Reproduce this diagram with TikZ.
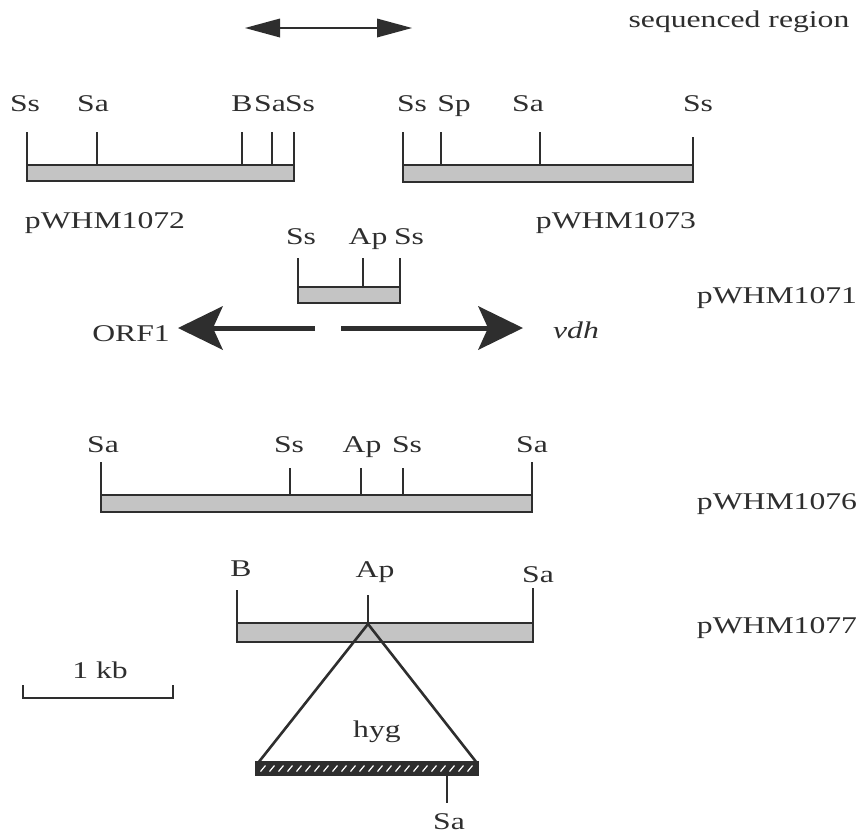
\documentclass[tikz,border=0pt]{standalone}
\usepackage{fontspec}
\setmainfont{Liberation Serif}
\usepackage{graphicx}
\definecolor{ink}{HTML}{2E2E2E}
\definecolor{stip}{HTML}{C4C4C4}
\newcommand\hs[1]{\scalebox{1.32}[1]{#1}}
\begin{document}
\begin{tikzpicture}[x=1pt,y=-1pt,
  lbl/.style={anchor=base,inner sep=0pt,font=\fontsize{24}{28}\selectfont,text=ink},
  dnabar/.style={draw=ink,line width=2.2pt,fill=stip},
  site/.style={draw=ink,line width=2pt},
  shaft/.style={draw=ink,line width=5pt},
  thinshaft/.style={draw=ink,line width=1.6pt},
  head/.style={fill=ink,draw=none},
  tri/.style={draw=ink,line width=2.6pt,line join=miter},
  hygbar/.style={draw=ink,line width=2pt,fill=ink}]
\useasboundingbox (0,0) rectangle (865,836);

% sequenced region arrow
\coordinate (sqL) at (245,28);
\coordinate (sqR) at (412,28);
\draw[thinshaft] (278,28) -- (380,28);
\fill[head] (sqL) -- (280,18.5) -- (280,37.5) -- cycle;
\fill[head] (sqR) -- (377,18.5) -- (377,37.5) -- cycle;
\node[lbl] (seq) at (739,27) {\hs{sequenced region}};

% pWHM1072
\foreach \x in {27,97,242,272,294} \draw[site] (\x,132) -- (\x,165);
\draw[dnabar] (27,165) rectangle (294,181);
\node[lbl] (a1) at (25,111) {\hs{Ss}};
\node[lbl] (a2) at (93,111) {\hs{Sa}};
\node[lbl] (a3) at (242,111) {\hs{B}};
\node[lbl] (a4) at (270,111) {\hs{Sa}};
\node[lbl] (a5) at (300,111) {\hs{Ss}};
\node[lbl] (p1072) at (105,228) {\hs{pWHM1072}};

% pWHM1073
\foreach \x/\t in {403/132,441/132,540/132,693/137} \draw[site] (\x,\t) -- (\x,165);
\draw[dnabar] (403,165) rectangle (693,182);
\node[lbl] (b1) at (412,111) {\hs{Ss}};
\node[lbl] (b2) at (454,111) {\hs{Sp}};
\node[lbl] (b3) at (528,111) {\hs{Sa}};
\node[lbl] (b4) at (698,111) {\hs{Ss}};
\node[lbl] (p1073) at (616,228) {\hs{pWHM1073}};

% pWHM1071
\foreach \x in {298,363,400} \draw[site] (\x,258) -- (\x,287);
\draw[dnabar] (298,287) rectangle (400,303);
\node[lbl] (c1) at (301,244) {\hs{Ss}};
\node[lbl] (c2) at (368,244) {\hs{Ap}};
\node[lbl] (c3) at (409,244) {\hs{Ss}};
\node[lbl] (p1071) at (777,303) {\hs{pWHM1071}};

% ORF1 / vdh arrows
\coordinate (orfT) at (178,328);
\coordinate (vdhT) at (523,328);
\draw[shaft] (315,328) -- (212,328);
\fill[head] (orfT) -- (223,306) -- (213,328) -- (223,350) -- cycle;
\draw[shaft] (341,328) -- (489,328);
\fill[head] (vdhT) -- (478,306) -- (488,328) -- (478,350) -- cycle;
\node[lbl] (orf) at (131,341) {\hs{ORF1}};
\node[lbl] (vdh) at (576,338) {\hs{\itshape vdh}};

% pWHM1076
\foreach \x/\t in {101/462,290/468,361/468,403/468,532/462} \draw[site] (\x,\t) -- (\x,495);
\draw[dnabar] (101,495) rectangle (532,512);
\node[lbl] (d1) at (103,452) {\hs{Sa}};
\node[lbl] (d2) at (289,452) {\hs{Ss}};
\node[lbl] (d3) at (362,452) {\hs{Ap}};
\node[lbl] (d4) at (407,452) {\hs{Ss}};
\node[lbl] (d5) at (532,452) {\hs{Sa}};
\node[lbl] (p1076) at (777,509) {\hs{pWHM1076}};

% pWHM1077
\foreach \x/\t in {237/590,368/595,533/588} \draw[site] (\x,\t) -- (\x,623);
\draw[dnabar] (237,623) rectangle (533,642);
\node[lbl] (e1) at (241,576) {\hs{B}};
\node[lbl] (e2) at (375,577) {\hs{Ap}};
\node[lbl] (e3) at (538,582) {\hs{Sa}};
\node[lbl] (p1077) at (777,633) {\hs{pWHM1077}};

% hyg insertion
\coordinate (apex) at (368,624);
\coordinate (hl) at (258,763);
\coordinate (hr) at (477,763);
\draw[tri] (hl) -- (apex) -- (hr);
\draw[hygbar] (256,762) rectangle (478,775);
\foreach \x in {263,272,...,472} \draw[white,line width=1.2pt] (\x-2.5,771.5) -- (\x+2.5,765.5);
\draw[site] (447,775) -- (447,803);
\node[lbl] (hsa) at (449,829) {\hs{Sa}};
\node[lbl] (hyg) at (377,737) {\hs{hyg}};

% scale bar
\coordinate (sbL) at (23,698);
\coordinate (sbR) at (173,698);
\draw[site] (23,685) -- (sbL) -- (sbR) -- (173,685);
\node[lbl] (kb) at (100,678) {\hs{1 kb}};
\end{tikzpicture}
\end{document}
